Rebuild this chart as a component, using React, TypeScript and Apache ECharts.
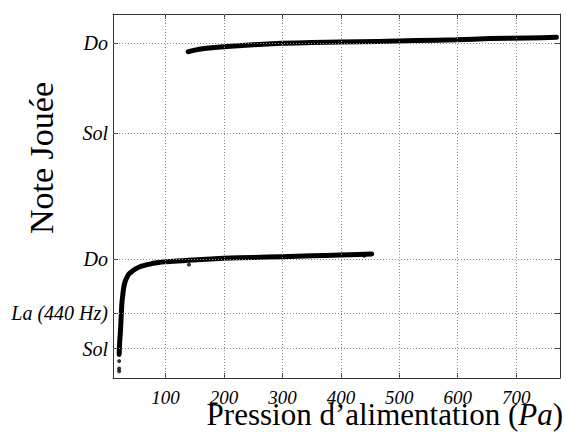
import React, { useEffect, useRef } from "react";
import * as echarts from "echarts";

// Axis ranges (pressure in Pa, pitch in semitones relative to La 440 Hz)
const xRange = [10, 775];
const yRange = [-3.63, 16.63];
const xTicks = [100, 200, 300, 400, 500, 600, 700];
const noteTicks = [-2, 0, 3, 10, 15];
const noteLabels = ["Sol", "La (440 Hz)", "Do", "Sol", "Do"];

// Lower register branch
const lowerPressure = [20.5, 21.5, 22.9, 24, 25.2, 26.8, 28.6, 31, 34.3, 37.5, 41.8, 48, 56, 64, 73, 85, 98.8, 120, 138.7, 170, 198.6, 250, 298.6, 350, 398.5, 430, 452.7];
const lowerPitch = [-2.32, -1.6, -0.96, -0.2, 0.52, 1.02, 1.45, 1.76, 2.0, 2.16, 2.28, 2.43, 2.56, 2.64, 2.71, 2.78, 2.84, 2.88, 2.92, 2.98, 3.03, 3.08, 3.12, 3.17, 3.21, 3.25, 3.27];

// Upper register branch
const upperPressure = [138.7, 150, 170, 198.6, 250, 298.6, 350, 398.5, 464, 530, 598, 655, 720, 769];
const upperPitch = [14.53, 14.62, 14.72, 14.81, 14.92, 15.0, 15.04, 15.07, 15.1, 15.15, 15.19, 15.27, 15.3, 15.33];

// Isolated points / blobs
const extraPressure = [20.5, 20.5, 20.5, 140, 440];
const extraPitch = [-2.69, -3.1, -3.25, 2.68, 3.18];

const SERIF = "Liberation Serif";

export default function App() {
  const ref = useRef<HTMLDivElement>(null);
  useEffect(() => {
    if (!ref.current) return;
    const chart = echarts.init(ref.current, undefined, { renderer: "svg" });
    const lower = lowerPressure.map((p, i) => [p, lowerPitch[i]]);
    const upper = upperPressure.map((p, i) => [p, upperPitch[i]]);
    const extra = extraPressure.map((p, i) => [p, extraPitch[i]]);
    const labelFor = (v: number) => {
      const i = noteTicks.findIndex((t) => Math.abs(t - v) < 1e-6);
      return i >= 0 ? noteLabels[i] : "";
    };
    const axisLine = { show: true, onZero: false, lineStyle: { color: "#333", width: 1 } };
    const option: any = {
      animation: false,
      backgroundColor: "#fff",
      grid: { left: 113, top: 14, right: 6, bottom: 54, containLabel: false, outerBoundsMode: "none" },
      xAxis: [
        {
          type: "value", position: "bottom", min: xRange[0], max: xRange[1],
          axisLine,
          axisTick: { show: true, inside: true, length: 5, customValues: xTicks, lineStyle: { color: "#333" } },
          axisLabel: { show: true, customValues: xTicks, fontFamily: SERIF, fontStyle: "italic", fontSize: 19, lineHeight: 12, color: "#000", margin: 13 },
          splitLine: { show: false },
        },
        {
          type: "value", position: "top", min: xRange[0], max: xRange[1],
          axisLine,
          axisTick: { show: true, inside: true, length: 5, customValues: xTicks, lineStyle: { color: "#333" } },
          axisLabel: { show: false },
          splitLine: { show: false },
        },
      ],
      yAxis: [
        {
          type: "value", position: "left", min: yRange[0], max: yRange[1],
          axisLine,
          axisTick: { show: true, inside: true, length: 5, customValues: noteTicks, lineStyle: { color: "#333" } },
          axisLabel: { show: true, customValues: noteTicks, formatter: labelFor, fontFamily: SERIF, fontStyle: "italic", fontSize: 20, color: "#000", margin: 5 },
          splitLine: { show: false },
        },
        {
          type: "value", position: "right", min: yRange[0], max: yRange[1],
          axisLine,
          axisTick: { show: true, inside: true, length: 5, customValues: noteTicks, lineStyle: { color: "#333" } },
          axisLabel: { show: false },
          splitLine: { show: false },
        },
      ],
      graphic: [
        {
          type: "text", x: 41, y: 158, rotation: Math.PI / 2,
          style: { text: "Note Jouée", fontFamily: SERIF, fontSize: 34, fill: "#000", align: "center", verticalAlign: "middle" },
        },
        {
          type: "text", x: 563, y: 404,
          style: {
            text: "Pression d’alimentation ({i|Pa})",
            fontFamily: SERIF, fontSize: 31, lineHeight: 21, fill: "#000", align: "right", verticalAlign: "top",
            rich: { i: { fontFamily: SERIF, fontSize: 31, lineHeight: 21, fontStyle: "italic", fill: "#000" } },
          },
        },
      ],
      series: [
        {
          type: "line", data: [], xAxisIndex: 0, yAxisIndex: 0, z: 1, silent: true,
          markLine: {
            silent: true, symbol: ["none", "none"], label: { show: false },
            lineStyle: { type: [1, 2], color: "#888", width: 1 },
            data: [
              ...xTicks.map((v) => ({ xAxis: v })),
              ...noteTicks.map((v) => ({ yAxis: v })),
            ],
          },
        },
        {
          type: "line", data: lower, showSymbol: false, smooth: 0.2, z: 3,
          lineStyle: { color: "#000", width: 5, cap: "round", join: "round" },
        },
        {
          type: "line", data: upper, showSymbol: false, smooth: 0.2, z: 3,
          lineStyle: { color: "#000", width: 5, cap: "round", join: "round" },
        },
        {
          type: "scatter", data: extra, symbolSize: 4, z: 4,
          itemStyle: { color: "#000" },
        },
      ],
    };
    chart.setOption(option);
    return () => chart.dispose();
  }, []);
  return (
    <div
      ref={ref}
      style={{ position: "absolute", left: 0, top: 0, width: 566, height: 432 }}
    />
  );
}
